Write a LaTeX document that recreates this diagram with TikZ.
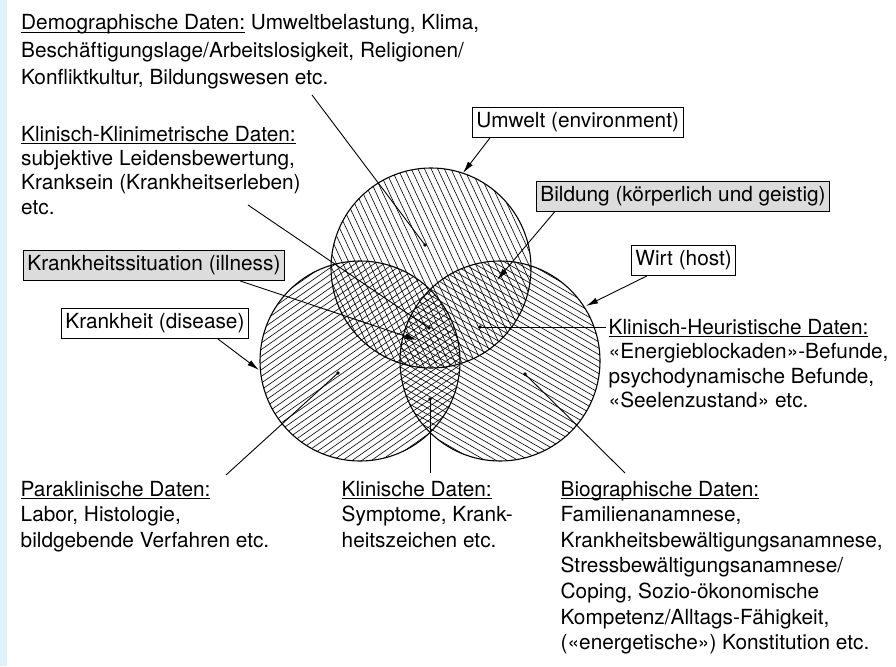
\documentclass[tikz,border=0pt]{standalone}
\usepackage{fontspec}
\setmainfont{TeX Gyre Heros}
\usetikzlibrary{arrows.meta,calc}
\definecolor{stripblue}{HTML}{DFF1FA}
\definecolor{boxgray}{HTML}{DCDCDC}
\newcommand\myul[1]{\setbox0=\hbox{#1}\rlap{\rule[-3pt]{\wd0}{0.9pt}}\box0\relax}
\newcommand\mylines[2]{\vtop{\baselineskip=#1\lineskiplimit=-100pt\relax #2}}
\begin{document}
\begin{tikzpicture}[x=1pt,y=-1pt,
  every node/.style={font=\fontsize{20.8}{25}\selectfont},
  txt/.style={anchor=base west, inner sep=0pt},
  box/.style={draw, line width=0.8pt, inner xsep=4pt, inner ysep=0pt, minimum height=30pt, anchor=west, fill=white},
  graybox/.style={box, fill=boxgray},
  hatch/.style={line width=0.6pt},
  ring/.style={line width=1.1pt},
  ptr/.style={line width=0.9pt},
  arr/.style={line width=0.9pt, -{Latex[length=12pt,width=6pt]}},
  dot/.style={fill, circle, inner sep=0pt, minimum size=3.6pt}]
\useasboundingbox (0,0) rectangle (896,666);
\fill[white] (0,0) rectangle (896,666);
\fill[stripblue] (0,0) rectangle (7,666);

\coordinate (ctop) at (431,268);
\coordinate (cleft) at (360,361);
\coordinate (cright) at (500,361);

% hatching
\begin{scope}
  \clip (ctop) circle[radius=100pt];
  \begin{scope}[shift={(ctop)}, rotate=25]
    \foreach \i in {-108,-102,...,108} \draw[hatch] (\i,-110) -- (\i,110);
  \end{scope}
\end{scope}
\begin{scope}
  \clip (cleft) circle[radius=100pt];
  \begin{scope}[shift={(cleft)}, rotate=-55]
    \foreach \i in {-110,-104.5,...,110} \draw[hatch] (\i,-110) -- (\i,110);
  \end{scope}
\end{scope}
\begin{scope}
  \clip (cright) circle[radius=100pt];
  \begin{scope}[shift={(cright)}, rotate=60]
    \foreach \i in {-110,-104.5,...,110} \draw[hatch] (\i,-110) -- (\i,110);
  \end{scope}
\end{scope}
\draw[ring] (ctop) circle[radius=100pt];
\draw[ring] (cleft) circle[radius=100pt];
\draw[ring] (cright) circle[radius=100pt];

% text blocks
\node[txt] (demo) at (21,30) {\mylines{27.5pt}{%
  \hbox{\myul{Demographische Daten:} Umweltbelastung, Klima,}%
  \hbox{Beschäftigungslage/Arbeitslosigkeit, Religionen/}%
  \hbox{Konfliktkultur, Bildungswesen etc.}}};
\node[txt] (klimet) at (21,141) {\mylines{24.4pt}{%
  \hbox{\myul{Klinisch-Klinimetrische Daten:}}%
  \hbox{subjektive Leidensbewertung,}%
  \hbox{Kranksein (Krankheitserleben)}%
  \hbox{etc.}}};
\node[txt] (heur) at (608.5,334) {\mylines{24.6pt}{%
  \hbox{\myul{Klinisch-Heuristische Daten:}}%
  \hbox{«Energieblockaden»-Befunde,}%
  \hbox{psychodynamische Befunde,}%
  \hbox{«Seelenzustand» etc.}}};
\node[txt] (para) at (20.5,496) {\mylines{25.6pt}{%
  \hbox{\myul{Paraklinische Daten:}}%
  \hbox{Labor, Histologie,}%
  \hbox{bildgebende Verfahren etc.}}};
\node[txt] (klin) at (341.5,496) {\mylines{25.6pt}{%
  \hbox{\myul{Klinische Daten:}}%
  \hbox{Symptome, Krank-}%
  \hbox{heitszeichen etc.}}};
\node[txt] (bio) at (560.5,496) {\mylines{25.6pt}{%
  \hbox{\myul{Biographische Daten:}}%
  \hbox{Familienanamnese,}%
  \hbox{Krankheitsbewältigungsanamnese,}%
  \hbox{Stressbewältigungsanamnese/}%
  \hbox{Coping, Sozio-ökonomische}%
  \hbox{Kompetenz/Alltags-Fähigkeit,}%
  \hbox{(«energetische») Konstitution etc.}}};

% boxes
\node[box] (umwelt) at (472,122.5) {Umwelt (environment)};
\node[graybox] (bildung) at (536,196) {Bildung (körperlich und geistig)};
\node[graybox] (illness) at (23,265.5) {Krankheitssituation (illness)};
\node[box] (disease) at (61,323.5) {Krankheit (disease)};
\node[box] (wirt) at (631,260.5) {Wirt (host)};

% pointer lines with dots
\coordinate (pdemo) at (312,95);   \node[dot] (ddemo) at (425,245) {};
\coordinate (pklimet) at (248,205); \node[dot] (dklimet) at (429,328) {};
\coordinate (pheur) at (606,327);  \node[dot] (dheur) at (480,327) {};
\coordinate (ppara) at (226,475);  \node[dot] (dpara) at (338,373) {};
\coordinate (pklin) at (430,473);  \node[dot] (dklin) at (430,399) {};
\coordinate (pbio) at (625,473);   \node[dot] (dbio) at (525,374) {};
\draw[ptr] (pdemo) -- (ddemo.center);
\draw[ptr] (pklimet) -- (dklimet.center);
\draw[ptr] (pheur) -- (dheur.center);
\draw[ptr] (ppara) -- (dpara.center);
\draw[ptr] (pklin) -- (dklin.center);
\draw[ptr] (pbio) -- (dbio.center);

% arrows
\coordinate (tumwelt) at (463,173);
\coordinate (tbildung) at (497,280);
\coordinate (tillness) at (417,340);
\coordinate (tdisease) at (259,370);
\coordinate (twirt) at (586,306);
\draw[arr] ($(umwelt.south west)+(18,0)$) -- (tumwelt);
\draw[arr] ($(bildung.south west)+(19,0)$) -- (tbildung);
\draw[arr] ($(illness.south west)+(217,0)$) -- (tillness);
\draw[arr] ($(disease.south east)+(-31,0)$) -- (tdisease);
\draw[arr] ($(wirt.south west)+(16,0)$) -- (twirt);
\end{tikzpicture}
\end{document}
